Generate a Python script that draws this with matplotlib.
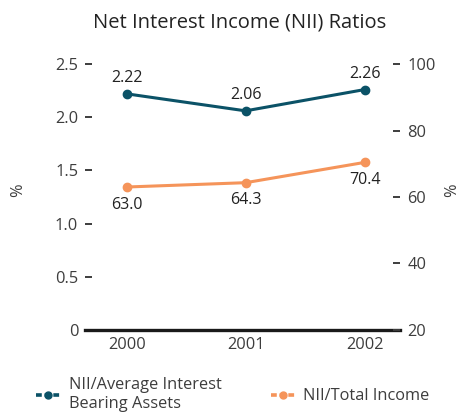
import matplotlib
matplotlib.use("Agg")
import matplotlib.pyplot as plt
from matplotlib.lines import Line2D

years = ["2000", "2001", "2002"]
nii_assets = [2.22, 2.06, 2.26]
nii_income = [63.0, 64.3, 70.4]
left_ticks = [0, 0.5, 1.0, 1.5, 2.0, 2.5]
left_labels = ["0", "0.5", "1.0", "1.5", "2.0", "2.5"]
right_ticks = [20, 40, 60, 80, 100]
series_names = ["NII/Average Interest\nBearing Assets", "NII/Total Income"]
title = "Net Interest Income (NII) Ratios"

plt.rcParams['font.family'] = ['Open Sans', 'DejaVu Sans']
teal = "#0b5267"
orange = "#f5945a"
tickc = "#3d3d3d"
textc = "#222222"
fs = 11.8

fig = plt.figure(figsize=(4.6, 4.16), dpi=100)
ax = fig.add_axes([0.185, 0.207, 0.685, 0.639])
ax2 = ax.twinx()

x = list(range(len(years)))
ax.plot(x, nii_assets, color=teal, lw=2.2, marker='o', ms=6, zorder=3)
ax2.plot(x, nii_income, color=orange, lw=2.2, marker='o', ms=6, zorder=3)

for xi, v in zip(x, nii_assets):
    ax.annotate(f"{v:.2f}", (xi, v), xytext=(0, 5.5), textcoords='offset points',
                ha='center', va='bottom', fontsize=11.5, color=textc)
for xi, v in zip(x, nii_income):
    ax2.annotate(f"{v:.1f}", (xi, v), xytext=(0, -7), textcoords='offset points',
                 ha='center', va='top', fontsize=11.5, color=textc)

ax.set_xlim(-0.35, 2.3)
ax.set_ylim(0, 2.5)
ax2.set_ylim(20, 100)
ax.set_xticks(x)
ax.set_xticklabels(years)
ax.set_yticks(left_ticks)
ax.set_yticklabels(left_labels)
ax2.set_yticks(right_ticks)

for a in (ax, ax2):
    for s in a.spines.values():
        s.set_visible(False)
ax.spines['bottom'].set_visible(True)
ax.spines['bottom'].set_linewidth(2.4)
ax.spines['bottom'].set_color("#1a1a1a")

ax.tick_params(axis='x', length=0, pad=5, labelsize=fs, labelcolor=tickc)
ax.tick_params(axis='y', direction='in', length=5, width=1.4, color=tickc,
               pad=5, labelsize=fs, labelcolor=tickc)
ax2.tick_params(axis='y', direction='in', length=5, width=1.4, color=tickc,
                pad=5, labelsize=fs, labelcolor=tickc)

fig.text(0.04, 0.543, "%", rotation=90, ha='center', va='center', fontsize=fs, color=tickc)
fig.text(0.983, 0.543, "%", rotation=90, ha='center', va='center', fontsize=fs, color=tickc)

fig.text(0.52, 0.947, title, ha='center', va='center', fontsize=14.5, color=textc)

handles = [
    Line2D([0], [0], color=teal, lw=2.6, linestyle=(0, (1.6, 0.8)), marker='o', ms=5),
    Line2D([0], [0], color=orange, lw=2.6, linestyle=(0, (1.6, 0.8)), marker='o', ms=5),
]
leg = fig.legend(handles, series_names, loc='upper left', bbox_to_anchor=(0.078, 0.094),
                 ncol=2, frameon=False, fontsize=fs, handlelength=1.5,
                 handletextpad=0.5, columnspacing=3.0, borderaxespad=0, borderpad=0)
for t in leg.get_texts():
    t.set_color(tickc)
    t.set_linespacing(1.25)

fig.savefig("out.png", dpi=100)
